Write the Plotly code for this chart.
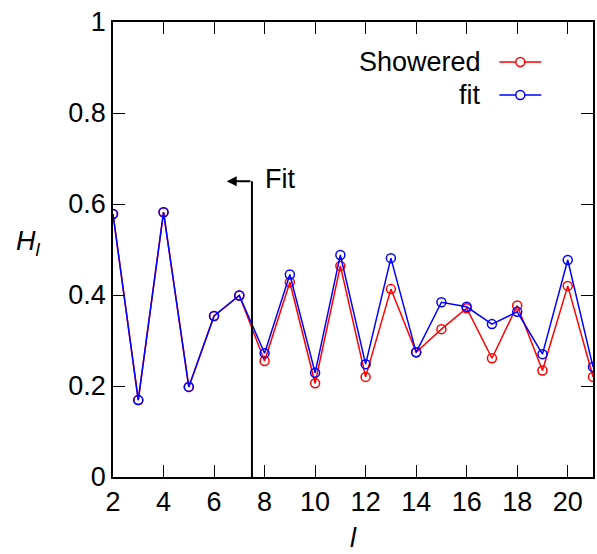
import plotly.graph_objects as go

l_vals = list(range(2, 22))
showered = [0.578, 0.169, 0.582, 0.198, 0.354, 0.399, 0.255, 0.428, 0.206, 0.464,
            0.220, 0.413, 0.274, 0.325, 0.371, 0.261, 0.377, 0.234, 0.420, 0.220]
fit = [0.578, 0.169, 0.582, 0.198, 0.354, 0.399, 0.272, 0.445, 0.229, 0.488,
       0.248, 0.481, 0.274, 0.384, 0.374, 0.336, 0.363, 0.270, 0.477, 0.242]
fit_cut = 7.5
fit_top = 0.65
arrow_end = 6.5

x_ticks = list(range(2, 21, 2))
y_ticks = [0, 0.2, 0.4, 0.6, 0.8, 1]

FONT = "Liberation Sans"
RED = "#ff0000"
BLUE = "#0000ff"

W, H = 597, 554
PL, PR, PT, PB = 113, 595, 22, 477
pw, ph = PR - PL, PB - PT


def px(x):
    return (x - PL) / pw


def py(y):
    return (PB - y) / ph


fig = go.Figure()
fig.add_trace(go.Scatter(x=l_vals, y=showered, mode="lines+markers", name="Showered",
                         line=dict(color=RED, width=1.5),
                         marker=dict(symbol="circle-open", size=9, color=RED, line=dict(width=1.5))))
fig.add_trace(go.Scatter(x=l_vals, y=fit, mode="lines+markers", name="fit",
                         line=dict(color=BLUE, width=1.5),
                         marker=dict(symbol="circle-open", size=9, color=BLUE, line=dict(width=1.5))))

# Fit cut marker
fig.add_shape(type="line", x0=fit_cut, x1=fit_cut, y0=0, y1=fit_top, xref="x", yref="y",
              line=dict(color="black", width=2))
fig.add_annotation(x=arrow_end, y=fit_top, ax=fit_cut, ay=fit_top, xref="x", yref="y",
                   axref="x", ayref="y", showarrow=True, arrowhead=2, arrowsize=1,
                   arrowwidth=2, arrowcolor="black", text="")
fig.add_annotation(x=7.95, y=fit_top + 0.005, xref="x", yref="y", text="Fit", showarrow=False,
                   xanchor="left", yanchor="middle", font=dict(family=FONT, size=27, color="black"))

# Manual legend (text left of sample)
legend_rows = [("Showered", RED, py(62)), ("fit", BLUE, py(95))]
for name, col, yy in legend_rows:
    fig.add_annotation(x=px(485), y=yy, xref="paper", yref="paper", text=name, showarrow=False,
                       xanchor="right", yanchor="middle",
                       font=dict(family=FONT, size=27, color="black"))
    fig.add_shape(type="line", x0=px(501), x1=px(543), y0=yy, y1=yy, xref="paper", yref="paper",
                  line=dict(color=col, width=1.5))
    fig.add_shape(type="circle", xref="paper", yref="paper", xsizemode="pixel", ysizemode="pixel",
                  xanchor=px(522), yanchor=yy, x0=-4.5, x1=4.5, y0=-4.5, y1=4.5,
                  line=dict(color=col, width=1.5), fillcolor="white")

# Axis titles
fig.add_annotation(x=px(28), y=py(243), xref="paper", yref="paper",
                   text="<i>H</i><sub><i>l</i></sub>",
                   showarrow=False, xanchor="center", yanchor="middle",
                   font=dict(family=FONT, size=27, color="black"))
fig.add_annotation(x=px(355), y=py(538), xref="paper", yref="paper",
                   text="<i>l</i>", showarrow=False, xanchor="center", yanchor="middle",
                   font=dict(family=FONT, size=27, color="black"))

axis_common = dict(showgrid=False, zeroline=False, showline=True, linecolor="black", linewidth=1.5,
                   mirror="ticks", ticks="inside", ticklen=12, tickwidth=1, tickcolor="black",
                   tickfont=dict(family=FONT, size=27, color="black"))
fig.update_xaxes(range=[2, 21], tickvals=x_ticks, **axis_common)
fig.update_yaxes(range=[0, 1], tickvals=y_ticks, **axis_common)

fig.update_layout(width=W, height=H,
                  margin=dict(l=PL, r=W - PR, t=PT, b=H - PB),
                  paper_bgcolor="white", plot_bgcolor="white", showlegend=False,
                  font=dict(family=FONT, size=27, color="black"))

fig.write_html("out.html", config={"displayModeBar": False},
               post_script="document.body.style.margin='0';document.body.style.overflow='hidden';")
